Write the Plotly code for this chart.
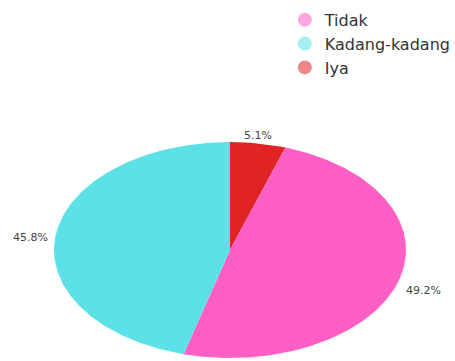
import numpy as np
import plotly.graph_objects as go

labels = ["Tidak", "Kadang-kadang", "Iya"]
values = [49.2, 45.8, 5.1]
colors = ["#ff5ec4", "#5ce1e6", "#e02424"]
# drawing order clockwise from 12 o'clock
order = ["Iya", "Tidak", "Kadang-kadang"]

W, H = 455, 361
cx_px, cy_px, rx_px, ry_px = 230, 250, 176, 108
xr = [-cx_px / rx_px, (W - cx_px) / rx_px]
yr = [-(H - cy_px) / ry_px, cy_px / ry_px]

fig = go.Figure()
total = sum(values)
start = 0.0
ann = []
for name in order:
    i = labels.index(name)
    frac = values[i] / total
    a0, a1 = start * 2 * np.pi, (start + frac) * 2 * np.pi
    t = np.linspace(a0, a1, 200)
    xs = np.concatenate([[0], np.sin(t), [0]])
    ys = np.concatenate([[0], np.cos(t), [0]])
    fig.add_trace(go.Scatter(x=xs, y=ys, fill="toself", mode="lines",
                             line=dict(width=0, color=colors[i]),
                             fillcolor=colors[i], showlegend=False,
                             hoverinfo="skip"))
    am = (a0 + a1) / 2
    ex, ey = np.sin(am), np.cos(am)
    if abs(ex) < 0.3:
        xanchor, yanchor, xs_, ys_ = "center", "bottom", 0, -1
    else:
        xanchor = "left" if ex > 0 else "right"
        yanchor, xs_ = "middle", 6 * np.sign(ex)
        ys_ = -2 if ey > 0 else -9
    ann.append(dict(x=ex, y=ey, text=f"{values[i]:.1f}%", showarrow=False,
                    xanchor=xanchor, yanchor=yanchor, xshift=xs_, yshift=ys_,
                    font=dict(family="DejaVu Sans", size=11, color="#444444")))
    start += frac

for i, name in enumerate(labels):
    fig.add_trace(go.Scatter(x=[None], y=[None], mode="markers", name=name,
                             marker=dict(symbol="circle", size=14, color=colors[i], opacity=0.55)))

fig.update_layout(
    width=W, height=H,
    margin=dict(l=0, r=0, t=0, b=0, autoexpand=False),
    paper_bgcolor="white", plot_bgcolor="white",
    xaxis=dict(range=xr, visible=False, fixedrange=True),
    yaxis=dict(range=yr, visible=False, fixedrange=True),
    annotations=ann,
    legend=dict(x=0.626, y=0.992, xanchor="left", yanchor="top",
                font=dict(family="DejaVu Sans", size=16, color="#333333"),
                bgcolor="rgba(0,0,0,0)", tracegroupgap=0),
    showlegend=True,
)
fig.write_html("out.html")
